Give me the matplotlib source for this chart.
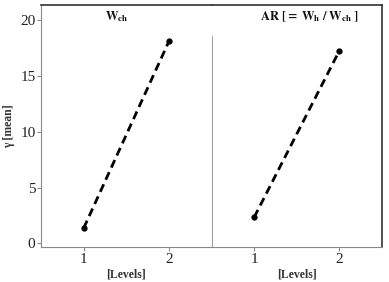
import matplotlib
matplotlib.use("Agg")
import matplotlib.pyplot as plt

levels = [1, 2]
wch_mean = [1.35, 18.1]
ar_mean = [2.33, 17.27]
yticks = [0, 5, 10, 15, 20]
panel_titles = [r"$\mathbf{W_{ch}}$", r"$\mathbf{AR\ [=\ W_{h}\ /\ W_{ch}\ ]}$"]
xlabel = "[Levels]"
ylabel = "γ [mean]"

plt.rcParams['font.family'] = ['Liberation Serif', 'DejaVu Serif']
plt.rcParams['mathtext.fontset'] = 'stix'

W, H = 389, 282
fig = plt.figure(figsize=(W / 100, H / 100), dpi=100)

x0, x1, x2 = 41, 211.5, 382
ytop, ybot = 5, 247
ax1 = fig.add_axes([x0 / W, (H - ybot) / H, (x1 - x0) / W, (ybot - ytop) / H])
ax2 = fig.add_axes([x1 / W, (H - ybot) / H, (x2 - x1) / W, (ybot - ytop) / H])

grey = "#8a8a8a"
title_x = [(117 - x0) / (x1 - x0), (310 - x1) / (x2 - x1)]
for ax, vals, title, tx in [(ax1, wch_mean, panel_titles[0], title_x[0]),
                            (ax2, ar_mean, panel_titles[1], title_x[1])]:
    ax.plot(levels, vals, color="black", linestyle=(0, (3.0, 1.8)), linewidth=2.0,
            marker="o", markersize=3.5)
    ax.set_xlim(0.5, 2.5)
    ax.set_ylim(-0.33, 21.37)
    ax.set_xticks(levels)
    ax.set_xticklabels([str(l) for l in levels], fontsize=11)
    ax.tick_params(axis="both", length=3, width=0.8, color=grey, labelcolor="#222222", pad=1)
    ax.set_xlabel(xlabel, fontsize=8.5, fontweight="bold", color="#333333", labelpad=2)
    ax.text(tx, (ybot - 17) / (ybot - ytop), title, transform=ax.transAxes,
            ha="center", va="center", fontsize=9, color="#111111")
    ax.spines["bottom"].set_color(grey)
    ax.spines["top"].set_color("#333333")
    ax.spines["top"].set_linewidth(1.2)

ax1.spines["left"].set_color(grey)
ax1.spines["right"].set_visible(False)
ax1.set_yticks(yticks)
ax1.set_yticklabels([str(t) for t in yticks], fontsize=11)
ax1.set_ylabel(ylabel, fontsize=8.5, fontweight="bold", color="#333333", labelpad=4)

ax2.spines["left"].set_visible(False)
ax2.spines["right"].set_color("#333333")
ax2.spines["right"].set_linewidth(1.2)
ax2.set_yticks([])
ax2.axvline(0.5, ymin=0, ymax=(ybot - 37) / (ybot - ytop), color=grey, linewidth=1.2)

fig.savefig("out.png", dpi=100)
